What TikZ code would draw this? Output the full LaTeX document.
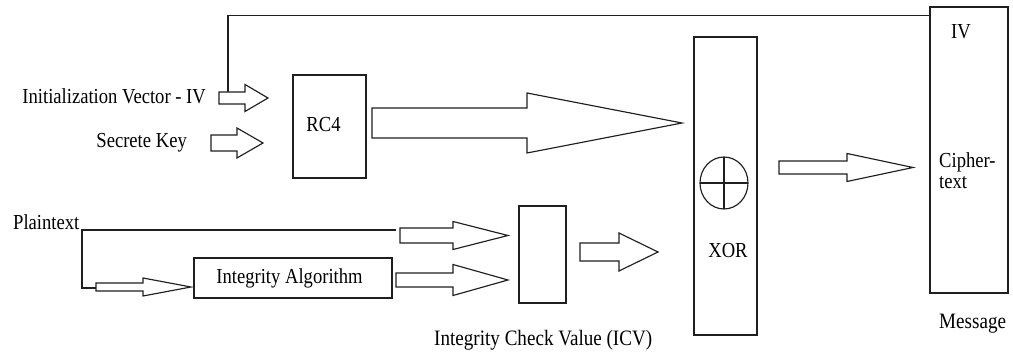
\documentclass[tikz,border=0pt]{standalone}
\usepackage{graphicx}
\usepackage{fontspec}
\setmainfont{Liberation Serif}
\tikzset{
  ln/.style={draw=black!88, line width=1.15pt, line join=miter},
  box/.style={ln, rectangle, inner sep=0pt, fill=white},
  lbl/.style={inner sep=0pt, font=\fontsize{18.6}{21}\selectfont},
  biglbl/.style={inner sep=0pt, font=\fontsize{19.1}{22}\selectfont},
  blockarrow/.style={ln, fill=white}
}
% text set slightly taller than wide
\newcommand\tall[1]{\scalebox{1}[1.15]{#1}}
% block arrow: #1 tail x, #2 centre y, #3 shaft half-height, #4 head base x, #5 head half-height, #6 tip x
\newcommand\blockarrow[6]{%
  \draw[blockarrow] (#1,#2-#3) -- (#4,#2-#3) -- (#4,#2-#5) -- (#6,#2)
    -- (#4,#2+#5) -- (#4,#2+#3) -- (#1,#2+#3) -- cycle;}
\begin{document}
\begin{tikzpicture}[x=1pt,y=-1pt]
\useasboundingbox (0,0) rectangle (1013,352);

% blocks
\node[box, minimum width=73pt, minimum height=103pt] (rc4) at (329.5,126.5) {};
\node[lbl, anchor=base] at (323.5,132) {\tall{RC4}};
\node[box, minimum width=63pt, minimum height=298pt] (xor) at (725.5,186) {};
\node[box, minimum width=47pt, minimum height=97pt] (icv) at (542.5,254.5) {};
\node[box, minimum width=198pt, minimum height=40pt] (ia) at (293,278) {};
\node[lbl, anchor=base] at (289.5,284) {\tall{Integrity Algorithm}};
\node[box, minimum width=78pt, minimum height=286pt] (msg) at (969,150) {};

% XOR symbol
\draw[ln] (724,183) ellipse [x radius=24pt, y radius=26pt];
\draw[ln] (700,183) -- (748,183) (724,157) -- (724,209);
\node[lbl, anchor=base] (xorl) at (728,258) {\tall{XOR}};

% labels
\node[lbl, anchor=base east] (ivl) at (206,104) {\tall{Initialization Vector - IV}};
\node[lbl, anchor=base east] (keyl) at (187,148) {\tall{Secrete Key}};
\node[lbl, anchor=base west] (ptl) at (13,230) {\tall{Plaintext}};
\node[biglbl, anchor=base west] (icvl) at (434,346) {\tall{Integrity Check Value (ICV)}};
\node[lbl, anchor=base] (msgiv) at (961,39) {\tall{IV}};
\node[lbl, anchor=base west] (ct1) at (939,168) {\tall{Cipher-}};
\node[lbl, anchor=base west] (ct2) at (939,189) {\tall{text}};
\node[biglbl, anchor=base west] (msgl) at (939,329) {\tall{Message}};

% IV copied to the message header
\coordinate (ivtap) at (228,92);
\draw[ln] (ivtap) |- ([yshift=-9pt]msg.north west);

% plaintext feed lines
\coordinate (ptsplit) at (82,230);
\coordinate (ptend) at (396,230);
\coordinate (ptdown) at (82,288);
\coordinate (iafeed) at (96,288);
\draw[ln] (ptend) -- (ptsplit) -- (ptdown) -- (iafeed);

% block arrows
\blockarrow{219}{98}{6}{245}{13.5}{268}
\blockarrow{211}{143}{8}{237}{15}{263}
\blockarrow{372}{123}{15}{527}{30}{682}
\blockarrow{400}{235.5}{7.5}{453}{14}{508}
\blockarrow{396}{280}{7}{453}{15.5}{508}
\blockarrow{96}{287}{4}{143}{9}{191}
\blockarrow{580}{252}{9}{619}{19}{658}
\blockarrow{779}{167.5}{6.5}{847}{14}{913}
\end{tikzpicture}
\end{document}
